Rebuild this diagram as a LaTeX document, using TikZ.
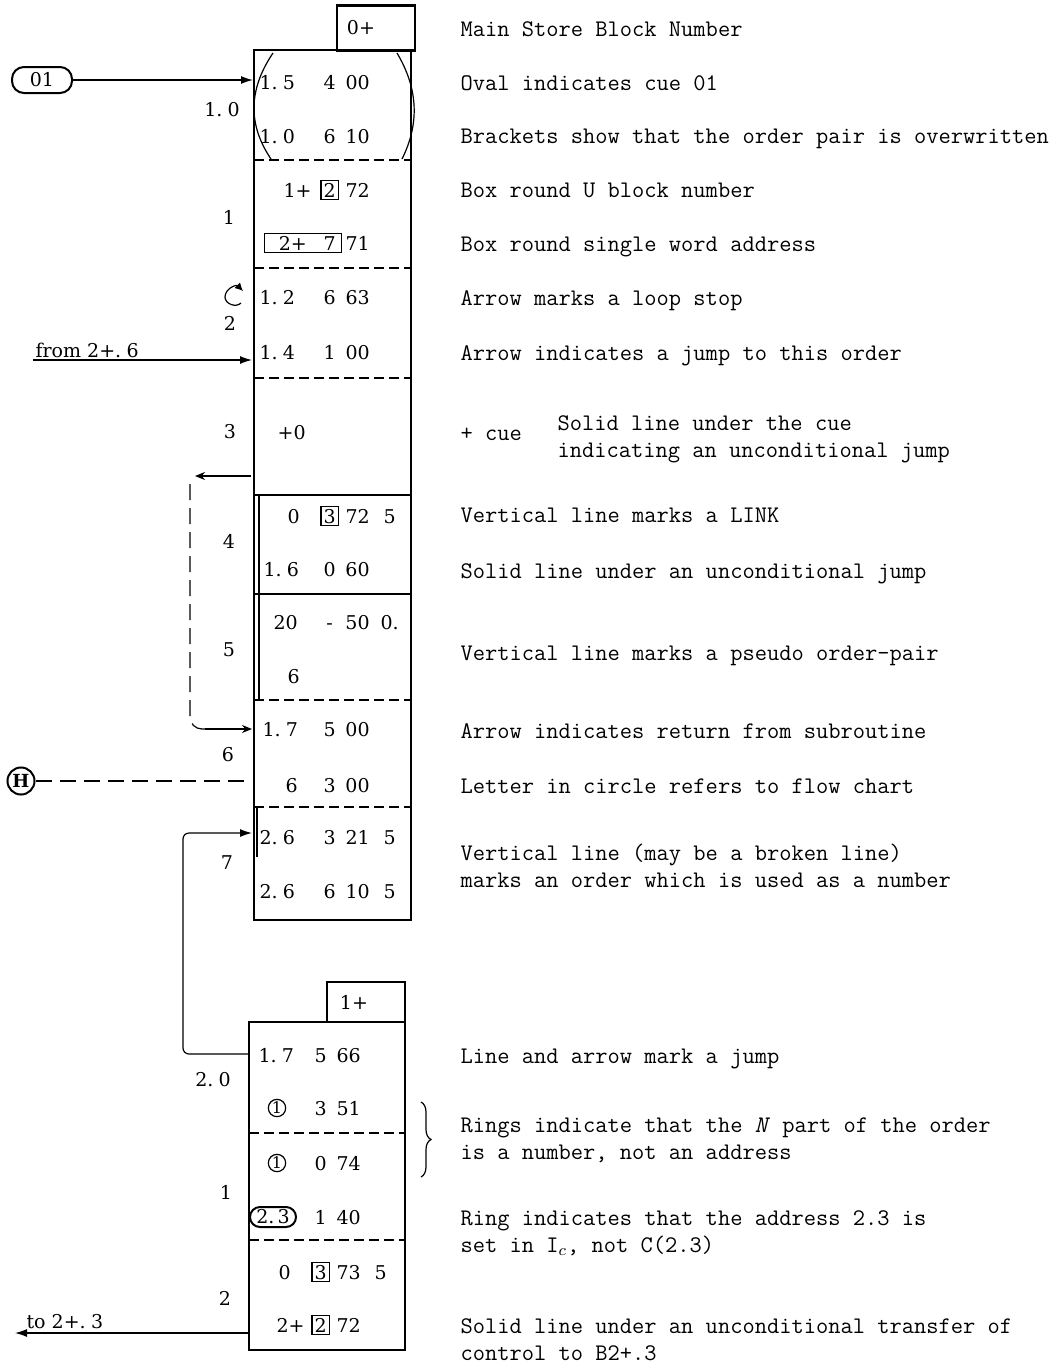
\documentclass[tikz,border=0pt]{standalone}
\usepackage{fontspec}
\newfontfamily\ordfont{DejaVu Serif}
\usetikzlibrary{arrows.meta,decorations.pathreplacing}

% columns of one order: address part, function, B digit, extra digit
\newcommand{\ordcols}[5][28pt]{\makebox[#1][l]{#2}\makebox[14pt]{#3}\makebox[14pt]{#4}\makebox[18pt]{#5}}
\newcommand{\ubox}[1]{{\setlength{\fboxsep}{1pt}\setlength{\fboxrule}{0.6pt}\fbox{#1}}}

\begin{document}
\begin{tikzpicture}[x=0.5pt, y=-0.5pt, line width=0.6pt,
  >={Latex[length=6pt,width=4pt]},
  every node/.style={font=\ordfont\fontsize{9.5}{12}\selectfont},
  word/.style={anchor=west, inner sep=0pt, text height=7pt, text depth=0pt},
  lab/.style={inner sep=0pt},
  note/.style={anchor=base west, inner sep=0pt, align=left,
    font=\fontsize{11.9}{13.5}\selectfont\ttfamily},
  sep/.style={dash pattern=on 5pt off 2.5pt},
  blockno/.style={draw, line width=1.2pt, minimum width=39pt, inner sep=0pt},
  ring/.style={draw, circle, inner sep=0.3pt, font=\ordfont\fontsize{8}{9}\selectfont}]
  \useasboundingbox (0,0) rectangle (1055,1366);

  % --- Block 0+ ---
  \node[blockno, minimum height=22.5pt] (mainno) at (376,28) {0+\hspace*{15pt}};
  \draw (254,50) rectangle (411,920);
  \draw[sep] (254,160) -- (411,160);
  \draw[sep] (254,268) -- (411,268);
  \draw[sep] (254,378) -- (411,378);
  \draw (254,495) -- (411,495);
  \draw (254,594) -- (411,594);
  \draw[sep] (254,700) -- (411,700);
  \draw[sep] (254,807) -- (411,807);
  % brackets round the overwritten pair
  \draw[semithick] (273,53) .. controls (248,90) and (248,125) .. (271,159);
  \draw[semithick] (397,53) .. controls (419,90) and (419,125) .. (402,159);
  % link and number marks
  \draw[semithick] (259,495) -- (259,700);
  \draw[thick] (257,807) -- (257,857);
  % orders
  \node[word] (w10a) at (259,82) {\ordcols{1.\;5}{4}{00}{}};
  \node[word] (w10b) at (259,136) {\ordcols{1.\;0}{6}{10}{}};
  \node[word] (w11a) at (259,190) {\ordcols{\hspace*{12pt}1+}{\ubox{2}}{72}{}};
  \node[word] (w11b) at (259,243) {\ordcols{\hspace*{2pt}\rlap{\ubox{\makebox[36pt]{\hspace*{6pt}2+\hfill 7\hspace*{1.5pt}}}}}{}{71}{}};
  \node[word] (w12a) at (259,297) {\ordcols{1.\;2}{6}{63}{}};
  \node[word] (w12b) at (259,352) {\ordcols{1.\;4}{1}{00}{}};
  \node[word] (w13) at (277,432) {+0};
  \node[word] (w14a) at (259,516) {\ordcols{\hspace*{14pt}0}{\ubox{3}}{72}{5}};
  \node[word] (w14b) at (259,569) {\ordcols{\hspace*{2pt}1.\;6}{0}{60}{}};
  \node[word] (w15a) at (259,622) {\ordcols{\hspace*{7pt}20}{-}{50}{0.}};
  \node[word] (w15b) at (259,676) {\ordcols{\hspace*{14pt}6}{}{}{}};
  \node[word] (w16a) at (259,729) {\ordcols{\hspace*{1.5pt}1.\;7}{5}{00}{}};
  \node[word] (w16b) at (259,785) {\ordcols{\hspace*{13pt}6}{3}{00}{}};
  \node[word] (w17a) at (259,837) {\ordcols{2.\;6}{3}{21}{5}};
  \node[word] (w17b) at (259,891) {\ordcols{2.\;6}{6}{10}{5}};
  % line numbers
  \node[lab] (l10) at (222,110) {1.\;0};
  \node[lab] (l11) at (229,217) {1};
  \node[lab] (l12) at (230,323) {2};
  \node[lab] (l13) at (230,432) {3};
  \node[lab] (l14) at (229,541) {4};
  \node[lab] (l15) at (229,650) {5};
  \node[lab] (l16) at (228,755) {6};
  \node[lab] (l17) at (227,863) {7};

  % --- Block 1+ ---
  \node[blockno, minimum height=20pt] (subno) at (366,1002) {1+\hspace*{12pt}};
  \draw (249,1022) rectangle (405,1350);
  \draw[sep] (249,1133) -- (405,1133);
  \draw[sep] (249,1240) -- (405,1240);
  \node[word] (w20a) at (258,1055) {\ordcols[24pt]{1.\;7}{5}{66}{}};
  \node[ring] (ring1) at (277,1108) {1};
  \node[word] (w20b) at (258,1108) {\ordcols[24pt]{}{3}{51}{}};
  \node[ring] (ring2) at (277,1163) {1};
  \node[word] (w21a) at (258,1163) {\ordcols[24pt]{}{0}{74}{}};
  \node[draw, rounded corners=5pt, line width=1pt, inner sep=0pt, minimum width=23pt,
    minimum height=10pt] (ring23) at (273,1217) {2.\,3};
  \node[word] (w21b) at (258,1217) {\ordcols[24pt]{}{1}{40}{}};
  \node[word] (w22a) at (258,1272) {\ordcols[24pt]{\hspace*{10pt}0}{\ubox{3}}{73}{5}};
  \node[word] (w22b) at (258,1325) {\ordcols[24pt]{\hspace*{9pt}2+}{\ubox{2}}{72}{}};
  \node[lab] (l20) at (213,1080) {2.\;0};
  \node[lab] (l21) at (226,1192) {1};
  \node[lab] (l22) at (225,1298) {2};
  \draw[decorate, decoration={brace, amplitude=5pt}] (421,1102) -- (421,1177);

  % --- Marks on the left ---
  \node[draw, line width=1pt, rounded corners=6pt, minimum width=30pt, minimum height=13pt,
    inner sep=0pt] (cue01) at (42,80) {01};
  \coordinate (in10) at (253,80);
  \draw[->] (cue01) -- (in10);
  % loop stop
  \draw[-{Latex[length=4pt,width=4pt]}] (241,303) .. controls (236,308) and (225,304) .. (225,297)
    .. controls (225,289) and (236,284) .. (243,291);
  % jump in
  \node[anchor=south west, inner sep=1pt] (from26) at (33,360) {from 2+.\;6};
  \coordinate (in12) at (252,360);
  \draw[->] (from26.south west) -- (in12);
  % subroutine return
  \coordinate (out13) at (251,476);
  \coordinate (ret13) at (195,476);
  \draw[-{Stealth[length=5pt,width=4pt]}] (out13) -- (ret13);
  \coordinate (retdown) at (190,484);
  \coordinate (retturn) at (205,729);
  \coordinate (in16) at (252,729);
  \draw[dash pattern=on 8pt off 4pt, rounded corners=6pt] (retdown) |- (retturn);
  \draw[-{Stealth[length=5pt,width=4pt]}] (retturn) -- (in16);
  % flow chart letter
  \node[draw, circle, line width=1pt, inner sep=1pt, font=\ordfont\bfseries\fontsize{9}{10}\selectfont] (flowH) at (21,781) {H};
  \coordinate (in16b) at (250,781);
  \draw[dash pattern=on 8pt off 4pt] (flowH) -- (in16b);
  % jump from block 1+ to 0+ line 7
  \coordinate (out20) at (249,1054);
  \coordinate (in17) at (252,833);
  \draw[->, rounded corners=3pt] (out20) -- (183,1054) |- (in17);
  % transfer out
  \coordinate (out22) at (249,1333);
  \coordinate (toend) at (15,1333);
  \node[anchor=south west, inner sep=1pt] (to23) at (24,1331) {to 2+.\;3};
  \draw[->] (out22) -- (toend);

  % --- Explanations ---
  \node[note] (n01) at (460,36) {Main Store Block Number};
  \node[note] (n02) at (460,90) {Oval indicates cue 01};
  \node[note] (n03) at (460,143) {Brackets show that the order pair is overwritten};
  \node[note] (n04) at (460,197) {Box round U block number};
  \node[note] (n05) at (460,251) {Box round single word address};
  \node[note] (n06) at (460,305) {Arrow marks a loop stop};
  \node[note] (n07) at (460,360) {Arrow indicates a jump to this order};
  \node[note] (n08) at (460,440) {+ cue};
  \node[note] (n09) at (557,457) {Solid line under the cue\\indicating an unconditional jump};
  \node[note] (n10) at (460,522) {Vertical line marks a LINK};
  \node[note] (n11) at (460,578) {Solid line under an unconditional jump};
  \node[note] (n12) at (460,660) {Vertical line marks a pseudo order-pair};
  \node[note] (n13) at (460,738) {Arrow indicates return from subroutine};
  \node[note] (n14) at (460,793) {Letter in circle refers to flow chart};
  \node[note] (n15) at (460,887) {Vertical line (may be a broken line)\\marks an order which is used as a number};
  \node[note] (n16) at (460,1063) {Line and arrow mark a jump};
  \node[note] (n17) at (460,1159) {Rings indicate that the \textit{N} part of the order\\is a number, not an address};
  \node[note] (n18) at (460,1252) {Ring indicates that the address 2.3 is\\set in I$_c$, not C(2.3)};
  \node[note] (n19) at (460,1360) {Solid line under an unconditional transfer of\\control to B2+.3};
\end{tikzpicture}
\end{document}
